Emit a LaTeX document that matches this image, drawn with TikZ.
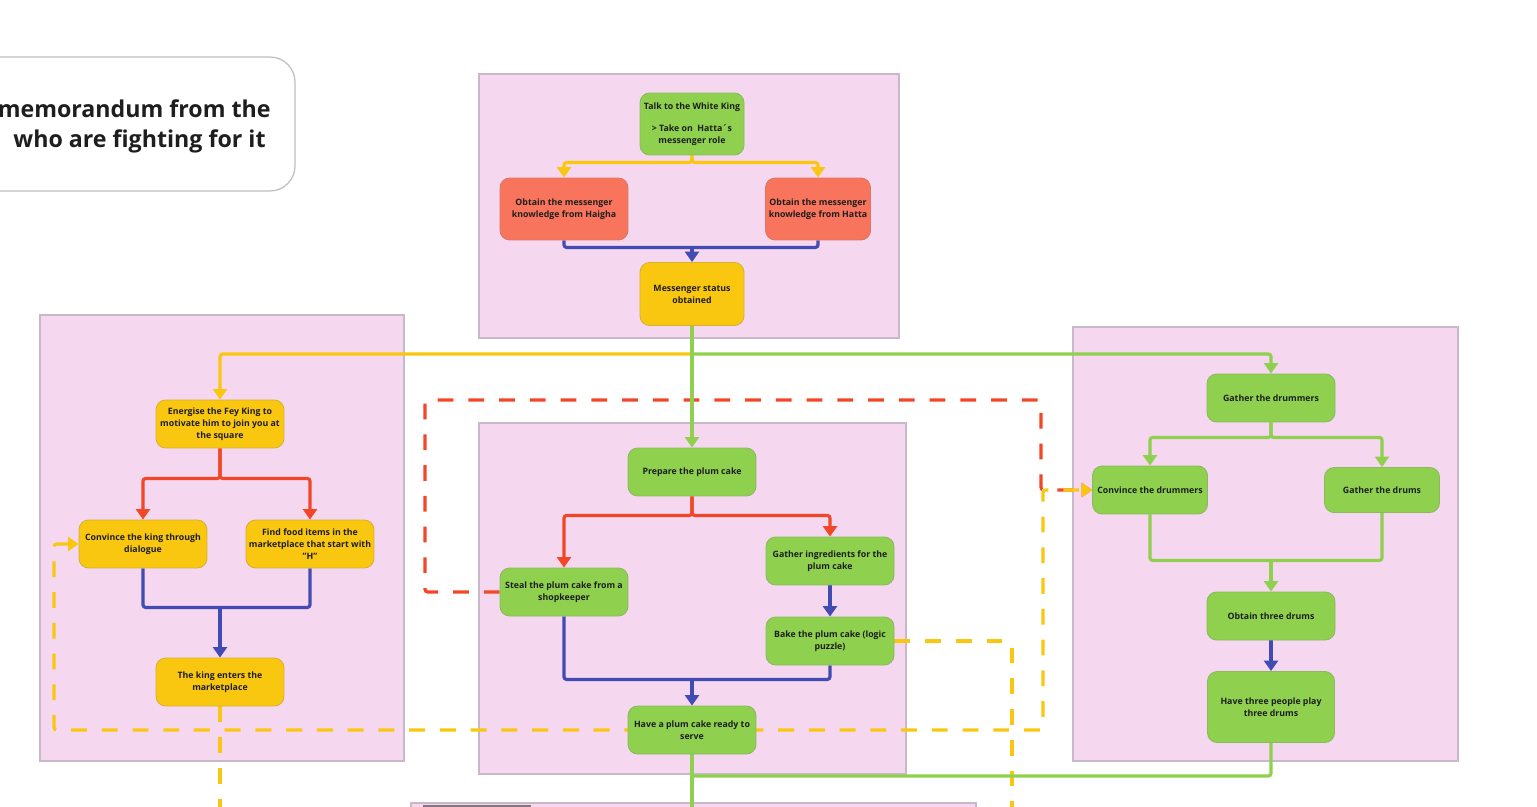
\documentclass[tikz,border=0pt]{standalone}
\usepackage{fontspec}
\setmainfont{Open Sans}
\usetikzlibrary{arrows.meta}

\definecolor{pinkfill}{RGB}{245,215,240}
\definecolor{pinkedge}{RGB}{200,184,202}
\definecolor{mgreen}{RGB}{143,209,79}
\definecolor{mred}{RGB}{249,116,92}
\definecolor{myellow}{RGB}{250,199,16}
\definecolor{lblue}{RGB}{65,75,178}
\definecolor{lred}{RGB}{242,71,38}
\definecolor{inkgray}{RGB}{30,30,30}

\pgfdeclarelayer{panels}
\pgfdeclarelayer{links}
\pgfsetlayers{panels,links,main}

\tikzset{
  box/.style={rounded corners=5.5pt, line width=0.5pt, align=center, inner sep=1pt,
    text=inkgray, font=\fontsize{5}{6.8}\selectfont\bfseries},
  gbox/.style={box, fill=mgreen, draw=mgreen!70!gray},
  rbox/.style={box, fill=mred, draw=mred!75!gray},
  ybox/.style={box, fill=myellow, draw=myellow!70!gray},
  std/.style={minimum width=2.56cm, minimum height=0.96cm},
  pinkpanel/.style={fill=pinkfill, draw=pinkedge, line width=0.7pt},
  link/.style={line width=1.8pt, rounded corners=1.5pt},
  glink/.style={link, draw=mgreen},
  ylink/.style={link, draw=myellow},
  blink/.style={link, draw=lblue},
  rlink/.style={link, draw=lred},
  ydash/.style={link, draw=myellow, dash pattern=on 9pt off 8.5pt},
  rdash/.style={link, draw=lred, dash pattern=on 9pt off 8.5pt},
  titletext/.style={font=\fontsize{13.2}{18}\selectfont\bfseries, text=inkgray, inner sep=0pt}
}

\begin{document}
\begin{tikzpicture}[x=0.02cm, y=-0.02cm, >={Triangle[width=8pt,length=6pt]}]
  \useasboundingbox (0,0) rectangle (1537,807);

  % title card, cut at the left edge
  \draw[fill=white, draw=black!25, line width=0.7pt, rounded corners=0.5cm]
    (0,57) -- (295,57) -- (295,191) -- (0,191);
  \node[titletext, anchor=east] (title1) at (271,109) {memorandum from the};
  \node[titletext, anchor=east] (title2) at (266,141) {who are fighting for it};

  % panels
  \begin{pgfonlayer}{panels}
    \draw[pinkpanel] (479,74) rectangle (899,338);
    \draw[pinkpanel] (40,315) rectangle (404,761);
    \draw[pinkpanel] (479,423) rectangle (906,774);
    \draw[pinkpanel] (1073,327) rectangle (1458,761);
    \fill[pinkfill] (411,803) rectangle (976,807);
    \draw[pinkedge, line width=0.7pt] (411,807) |- (976,803) -- (976,807);
    \fill[black!35!pinkedge] (423,805) rectangle (531,807);
  \end{pgfonlayer}

  % messenger
  \node[gbox, minimum width=2.08cm, minimum height=1.24cm] (talk) at (692,124)
    {Talk to the White King\\[6pt]> Take on~~Hatta´s\\messenger role};
  \node[rbox, minimum width=2.56cm, minimum height=1.24cm] (haigha) at (564,209)
    {Obtain the messenger\\knowledge from Haigha};
  \node[rbox, minimum width=2.1cm, minimum height=1.24cm] (hatta) at (818,209)
    {Obtain the messenger\\knowledge from Hatta};
  \node[ybox, minimum width=2.08cm, minimum height=1.26cm] (status) at (692,294)
    {Messenger status\\obtained};

  % fey king
  \node[ybox, std] (energise) at (220,424)
    {Energise the Fey King to\\motivate him to join you at\\the square};
  \node[ybox, std] (convk) at (143,544) {Convince the king through\\dialogue};
  \node[ybox, std] (food) at (310,544)
    {Find food items in the\\marketplace that start with\\"H"};
  \node[ybox, std] (enters) at (220,682) {The king enters the\\marketplace};

  % plum cake
  \node[gbox, std] (prep) at (692,472) {Prepare the plum cake};
  \node[gbox, std] (steal) at (564,592) {Steal the plum cake from a\\shopkeeper};
  \node[gbox, std] (ingr) at (830,561) {Gather ingredients for the\\plum cake};
  \node[gbox, std] (bake) at (830,641) {Bake the plum cake (logic\\puzzle)};
  \node[gbox, std] (ready) at (692,730) {Have a plum cake ready to\\serve};

  % drums
  \node[gbox, std] (drummers) at (1271,398) {Gather the drummers};
  \node[gbox, minimum width=2.3cm, minimum height=0.96cm] (cdrum) at (1150,490) {Convince the drummers};
  \node[gbox, minimum width=2.3cm, minimum height=0.9cm] (drums) at (1382,490) {Gather the drums};
  \node[gbox, std] (obtain) at (1271,616) {Obtain three drums};
  \node[gbox, minimum width=2.54cm, minimum height=1.42cm] (play) at (1271,707)
    {Have three people play\\three drums};

  \coordinate (jmsg) at (692,247);
  \coordinate (fork) at (692,354);
  \coordinate (jking) at (220,607);
  \coordinate (jcake) at (692,679);
  \coordinate (jdrum) at (1271,560);
  \coordinate (jend) at (692,776);
  \coordinate (loopA) at (54,730);
  \coordinate (loopB) at (1043,730);
  \coordinate (redA) at (425,400);
  \coordinate (redB) at (1041,400);
  \coordinate (bakeA) at (1012,641);
  \coordinate (downL) at (220,807);
  \coordinate (downM) at (692,807);
  \coordinate (downR) at (1012,807);

  \begin{pgfonlayer}{links}
    % dashed links first
    \draw[rdash,->] (steal.west) -| (redA) -- (redB) |- (cdrum.west);
    \draw[ydash,<->] (convk.west) -| (loopA) -- (loopB) |- (cdrum.west);
    \draw[ydash] (bake.east) -- (bakeA) -- (downR);
    \draw[ydash] (enters.south) -- (downL);

    \draw[ylink,->] (talk.south) -- ++(0,7) -| (haigha.north);
    \draw[ylink,->] (talk.south) -- ++(0,7) -| (hatta.north);
    \draw[blink] (haigha.south) -- ++(0,7) -| (hatta.south);
    \draw[blink,->] (jmsg) -- (status.north);

    \draw[ylink,->] (fork) -| (energise.north);
    \draw[glink,->] (fork) -| (drummers.north);
    \draw[glink,->] (status.south) -- (prep.north);

    \draw[rlink,->] (energise.south) -- ++(0,30) -| (convk.north);
    \draw[rlink,->] (energise.south) -- ++(0,30) -| (food.north);
    \draw[blink] (convk.south) -- ++(0,39) -| (food.south);
    \draw[blink,->] (jking) -- (enters.north);

    \draw[rlink,->] (prep.south) -- ++(0,19) -| (steal.north);
    \draw[rlink,->] (prep.south) -- ++(0,19) -| (ingr.north);
    \draw[blink,->] (ingr.south) -- (bake.north);
    \draw[blink] (steal.south) -- ++(0,63) -| (bake.south);
    \draw[blink,->] (jcake) -- (ready.north);
    \draw[glink] (ready.south) -- (downM);

    \draw[glink,->] (drummers.south) -- ++(0,15) -| (cdrum.north);
    \draw[glink,->] (drummers.south) -- ++(0,15) -| (drums.north);
    \draw[glink] (cdrum.south) -- ++(0,46) -| (drums.south);
    \draw[glink,->] (jdrum) -- (obtain.north);
    \draw[blink,->] (obtain.south) -- (play.north);
    \draw[glink] (play.south) |- (jend);
  \end{pgfonlayer}
\end{tikzpicture}
\end{document}
